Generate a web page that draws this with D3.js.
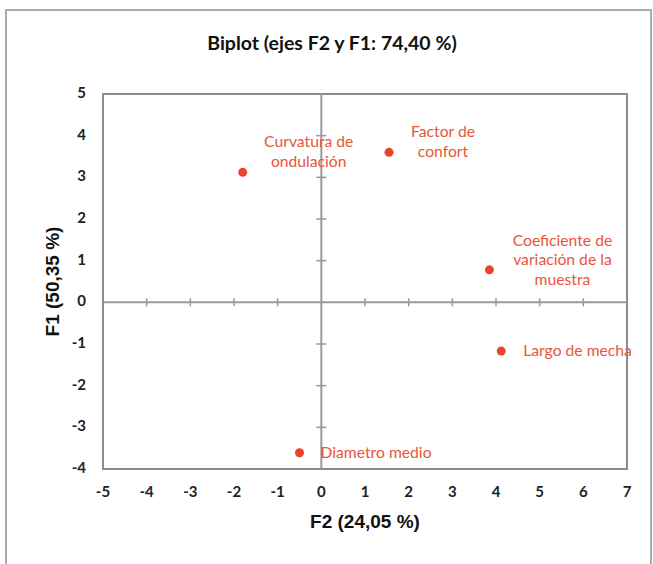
<!DOCTYPE html>
<html lang="es">
<head>
    <meta charset="UTF-8">
    <title>Biplot</title>
    <script src="https://d3js.org/d3.v7.min.js"></script>
    <style>
        body { margin: 0; background: #fff; }
    </style>
</head>
<body>
    <div id="biplot"></div>
    <script>
        // variables (F2, F1)
        var names = [
            ["Curvatura de", "ondulación"],
            ["Factor de", "confort"],
            ["Coeficiente de", "variación de la", "muestra"],
            ["Largo de mecha"],
            ["Diametro medio"]
        ];
        var f2 = [-1.80, 1.55, 3.85, 4.12, -0.50];
        var f1 = [3.12, 3.60, 0.78, -1.17, -3.61];
        var xTicks = [-5, -4, -3, -2, -1, 0, 1, 2, 3, 4, 5, 6, 7];
        var yTicks = [-4, -3, -2, -1, 0, 1, 2, 3, 4, 5];

        // label placement relative to each point (px)
        var labelPos = [
            { dx: 66, dy: -29, anchor: "middle" },
            { dx: 54, dy: -19, anchor: "middle" },
            { dx: 73, dy: -28, anchor: "middle" },
            { dx: 22, dy: 1, anchor: "start" },
            { dx: 21, dy: 1, anchor: "start" }
        ];

        var W = 653, H = 564;
        var pLeft = 103, pRight = 627, pTop = 94, pBottom = 469;
        var red = "#e8452c";

        var svg = d3.select("#biplot").append("svg")
            .attr("width", W)
            .attr("height", H);

        // outer frame (no bottom edge visible)
        svg.append("path")
            .attr("d", "M6,564 L6,10 L651,10 L651,564")
            .attr("fill", "none")
            .attr("stroke", "#ababab")
            .attr("stroke-width", 2);

        var x = d3.scaleLinear().domain([-5, 7]).range([pLeft, pRight]);
        var y = d3.scaleLinear().domain([-4, 5]).range([pBottom, pTop]);

        svg.append("text")
            .attr("x", 332)
            .attr("y", 45)
            .attr("text-anchor", "middle")
            .attr("dominant-baseline", "middle")
            .style("font-family", "Lato, sans-serif")
            .style("font-weight", "bold")
            .style("font-size", "19.5px")
            .style("fill", "#111")
            .text("Biplot (ejes F2 y F1: 74,40 %)");

        // plot box
        svg.append("rect")
            .attr("x", pLeft)
            .attr("y", pTop)
            .attr("width", pRight - pLeft)
            .attr("height", pBottom - pTop)
            .attr("fill", "#fff")
            .attr("stroke", "#8c8c8c")
            .attr("stroke-width", 2);

        // zero lines
        svg.append("line")
            .attr("x1", pLeft).attr("x2", pRight)
            .attr("y1", y(0)).attr("y2", y(0))
            .attr("stroke", "#999").attr("stroke-width", 2);
        svg.append("line")
            .attr("x1", x(0)).attr("x2", x(0))
            .attr("y1", pTop).attr("y2", pBottom)
            .attr("stroke", "#999").attr("stroke-width", 2);

        // crossing ticks on zero lines
        svg.append("g").selectAll("line")
            .data(xTicks.filter(function (d) { return d > -5 && d < 7 && d !== 0; }))
            .enter().append("line")
            .attr("x1", function (d) { return x(d); })
            .attr("x2", function (d) { return x(d); })
            .attr("y1", y(0) - 4)
            .attr("y2", y(0) + 4)
            .attr("stroke", "#999").attr("stroke-width", 1.5);
        svg.append("g").selectAll("line")
            .data(yTicks.filter(function (d) { return d > -4 && d < 5 && d !== 0; }))
            .enter().append("line")
            .attr("x1", x(0) - 5)
            .attr("x2", x(0) + 5)
            .attr("y1", function (d) { return y(d); })
            .attr("y2", function (d) { return y(d); })
            .attr("stroke", "#999").attr("stroke-width", 1.5);

        // tick labels
        svg.append("g").selectAll("text")
            .data(xTicks)
            .enter().append("text")
            .attr("x", function (d) { return x(d); })
            .attr("y", 493)
            .attr("text-anchor", "middle")
            .attr("dominant-baseline", "middle")
            .style("font-family", "Lato, sans-serif")
            .style("font-weight", "bold")
            .style("font-size", "15px")
            .style("fill", "#222")
            .text(function (d) { return d; });
        svg.append("g").selectAll("text")
            .data(yTicks)
            .enter().append("text")
            .attr("x", 86)
            .attr("y", function (d) { return y(d); })
            .attr("text-anchor", "end")
            .attr("dominant-baseline", "middle")
            .style("font-family", "Lato, sans-serif")
            .style("font-weight", "bold")
            .style("font-size", "15px")
            .style("fill", "#222")
            .text(function (d) { return d; });

        // axis titles
        svg.append("text")
            .attr("x", (pLeft + pRight) / 2)
            .attr("y", 523)
            .attr("text-anchor", "middle")
            .attr("dominant-baseline", "middle")
            .style("font-family", "Liberation Sans, Arial, sans-serif")
            .style("font-weight", "bold")
            .style("font-size", "19px")
            .style("fill", "#111")
            .text("F2 (24,05 %)");
        svg.append("text")
            .attr("transform", "translate(54," + ((pTop + pBottom) / 2) + ") rotate(-90)")
            .attr("text-anchor", "middle")
            .attr("dominant-baseline", "middle")
            .style("font-family", "Liberation Sans, Arial, sans-serif")
            .style("font-weight", "bold")
            .style("font-size", "19px")
            .style("fill", "#111")
            .text("F1 (50,35 %)");

        // points
        var pts = names.map(function (n, i) { return { name: n, x: f2[i], y: f1[i], lp: labelPos[i] }; });
        svg.append("g").selectAll("circle")
            .data(pts)
            .enter().append("circle")
            .attr("cx", function (d) { return x(d.x); })
            .attr("cy", function (d) { return y(d.y); })
            .attr("r", 4.5)
            .attr("fill", red);

        // labels
        var labels = svg.append("g").selectAll("text")
            .data(pts)
            .enter().append("text")
            .attr("text-anchor", function (d) { return d.lp.anchor; })
            .style("font-family", "Lato, sans-serif")
            .style("font-size", "15.7px")
            .style("fill", "#e8553a");
        labels.selectAll("tspan")
            .data(function (d) {
                return d.name.map(function (t, j) { return { t: t, d: d, j: j }; });
            })
            .enter().append("tspan")
            .attr("x", function (o) { return x(o.d.x) + o.d.lp.dx; })
            .attr("y", function (o) { return y(o.d.y) + o.d.lp.dy + o.j * 19.5; })
            .attr("dominant-baseline", "middle")
            .text(function (o) { return o.t; });
    </script>
</body>
</html>
